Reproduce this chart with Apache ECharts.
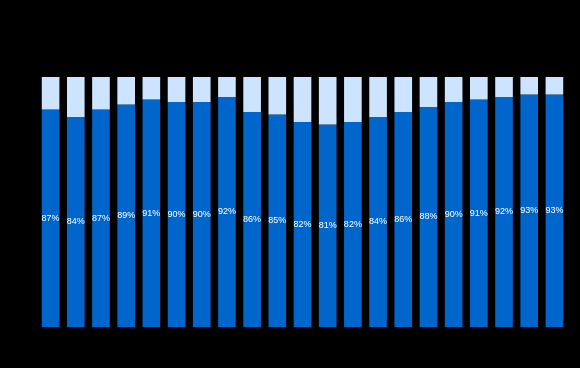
<!DOCTYPE html>
<html><head><meta charset="utf-8">
<script src="https://cdn.jsdelivr.net/npm/echarts@6/dist/echarts.min.js"></script>
<style>html,body{margin:0;padding:0;background:#000}#c{width:580px;height:368px}</style>
</head><body><div id="c"></div>
<script>
const categories = ['1','2','3','4','5','6','7','8','9','10','11','12','13','14','15','16','17','18','19','20','21'];
const shareValues = [87,84,87,89,91,90,90,92,86,85,82,81,82,84,86,88,90,91,92,93,93];
const restValues = shareValues.map(v => 100 - v);

const chart = echarts.init(document.getElementById('c'));
chart.setOption({
  backgroundColor: '#000000',
  animation: false,
  grid: {left: 38, right: 13, top: 77, bottom: 41},
  xAxis: {type: 'category', data: categories, show: false},
  yAxis: {type: 'value', min: 0, max: 100, show: false},
  series: [
    {type: 'bar', stack: 's', data: shareValues, barWidth: '70%',
     itemStyle: {color: '#0066CC'},
     label: {show: true, position: 'inside', formatter: p => p.value + '%',
             color: '#ffffff', fontSize: 9, fontFamily: 'Liberation Sans, Arial, sans-serif'}},
    {type: 'bar', stack: 's', data: restValues, barWidth: '70%',
     itemStyle: {color: '#CCE4FF'}}
  ]
});
</script></body></html>
